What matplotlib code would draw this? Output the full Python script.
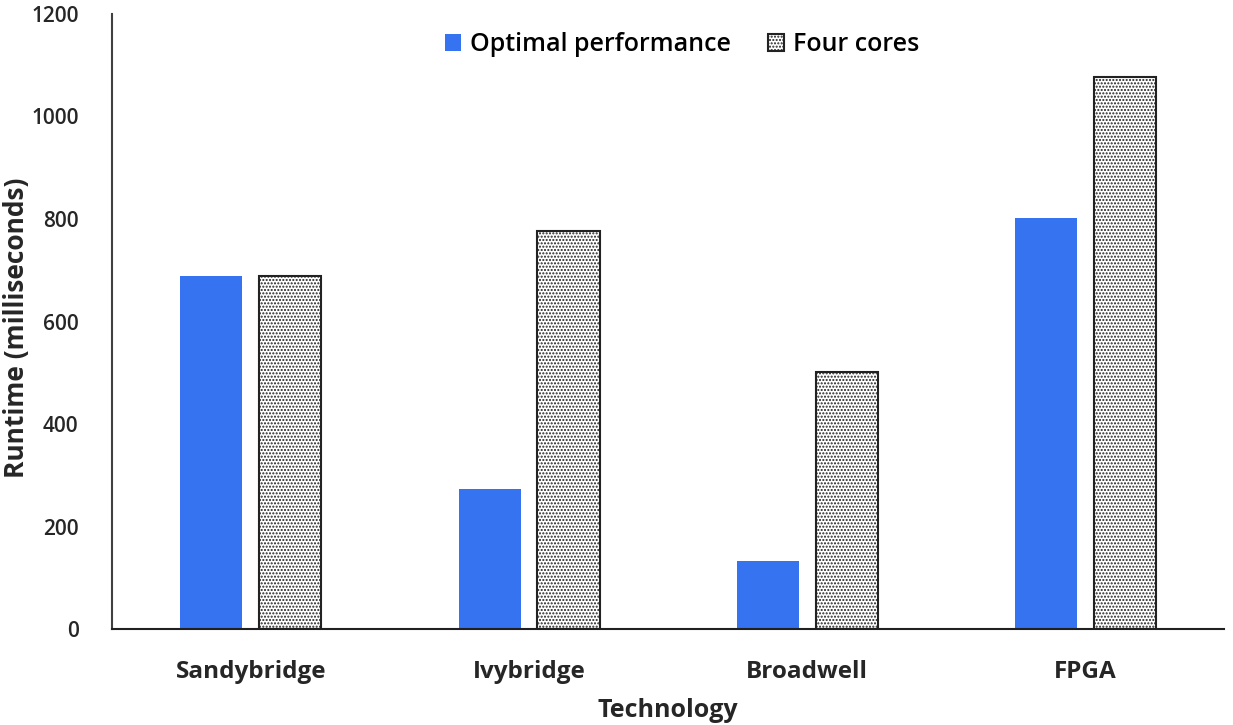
import numpy as np
import matplotlib
matplotlib.use('Agg')
import matplotlib.pyplot as plt

plt.rcParams['font.family'] = ['Open Sans', 'DejaVu Sans']
plt.rcParams['hatch.linewidth'] = 1.0

# Data
technologies = ['Sandybridge', 'Ivybridge', 'Broadwell', 'FPGA']
optimal = [689, 273, 133, 802]
four_cores = [688, 777, 501, 1077]

fig = plt.figure(figsize=(12.33, 7.25), dpi=100)
ax = fig.add_axes([0.0908, 0.1324, 0.902, 0.8483])

x = np.arange(len(technologies))
w = 0.223
ax.bar(x - 0.142, optimal, width=w, color='#3673f0', label='Optimal performance')
ax.bar(x + 0.142, four_cores, width=w, color='white', edgecolor='#222222',
       linewidth=1.5, hatch='.....', label='Four cores')

ax.set_xlim(-0.5, 3.5)
ax.set_ylim(0, 1200)
ax.set_yticks(range(0, 1201, 200))
ax.set_xticks(x)
ax.set_xticklabels(technologies, fontsize=17.5, fontweight='bold', color='#262626')
ax.tick_params(axis='x', length=0, pad=22)
ax.tick_params(axis='y', length=0, pad=24, labelsize=15, labelcolor='#262626')
for lbl in ax.get_yticklabels():
    lbl.set_fontweight('semibold')

for s in ['top', 'right']:
    ax.spines[s].set_visible(False)
ax.spines['left'].set_color('#404040')
ax.spines['bottom'].set_color('#202020')
ax.spines['left'].set_linewidth(1.5)
ax.spines['bottom'].set_linewidth(1.5)

ax.set_ylabel('Runtime (milliseconds)', fontsize=19, fontweight='bold', color='#262626',
              va='center')
ax.yaxis.set_label_coords(-0.0854, 0.49)
ax.set_xlabel('Technology', fontsize=18, fontweight='bold', color='#262626', va='center')
ax.xaxis.set_label_coords(0.5, -0.1317)

ax.legend(loc='center', bbox_to_anchor=(0.5126, 0.9496), ncol=2, frameon=False,
          prop={'size': 18, 'weight': 'semibold'}, handlelength=0.64, handleheight=0.64,
          columnspacing=1.5, handletextpad=0.35)

fig.savefig('out.png', dpi=100)
